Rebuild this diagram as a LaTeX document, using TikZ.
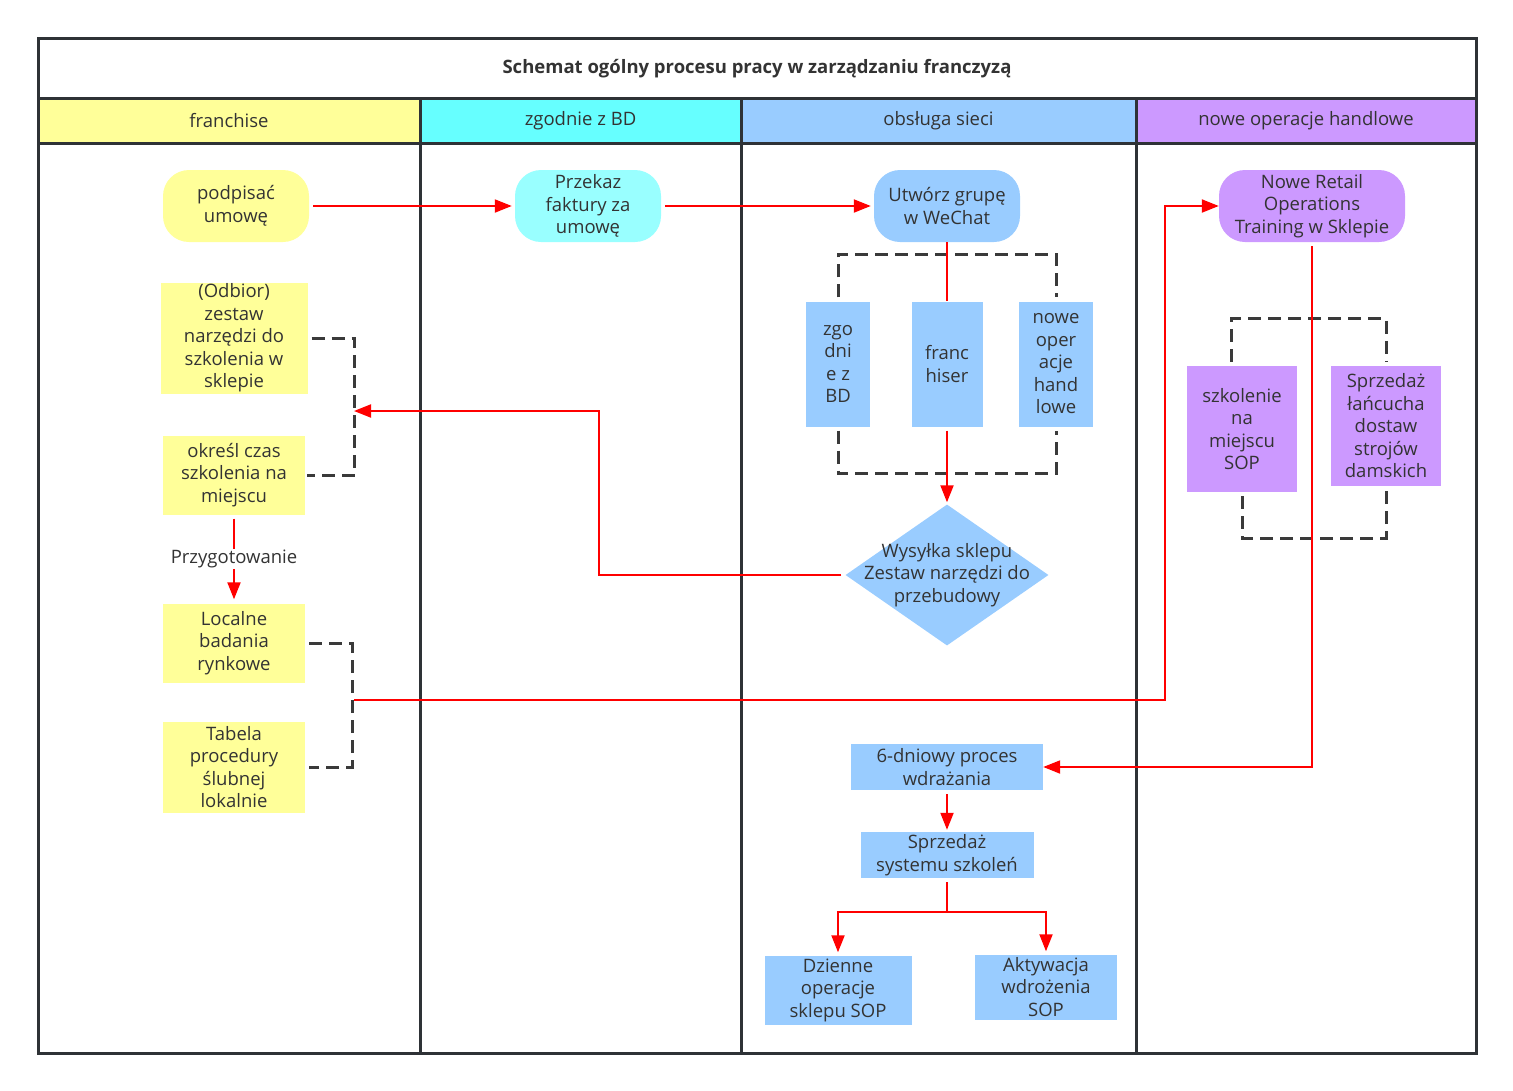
\documentclass[tikz,border=0pt]{standalone}
\usepackage{fontspec}
\setmainfont{Open Sans}
\usetikzlibrary{arrows.meta,positioning,shapes.geometric}
\definecolor{laneyellow}{HTML}{FFFF99}
\definecolor{lanecyan}{HTML}{66FFFF}
\definecolor{boxcyan}{HTML}{99FFFF}
\definecolor{laneblue}{HTML}{99CCFF}
\definecolor{lanepurple}{HTML}{CC99FF}
\definecolor{framegray}{HTML}{2E3236}
\definecolor{dashgray}{HTML}{3A3A3A}
\definecolor{textgray}{HTML}{333333}

\begin{document}
\begin{tikzpicture}[
  x=1pt,y=-1pt,
  font=\fontsize{18.5}{22.5}\selectfont,text=textgray,
  frame/.style={draw=framegray,line width=3pt},
  lanehead/.style={frame,minimum height=45pt,inner sep=0pt},
  box/.style={inner sep=0pt,align=center},
  term/.style={box,rounded corners=26pt,minimum width=146pt,minimum height=72pt},
  flow/.style={-{Triangle[length=17pt,width=13pt]},red,line width=2pt},
  bracket/.style={dashgray,line width=3pt,dash pattern=on 13pt off 7pt}
]
\useasboundingbox (0,0) rectangle (1513,1090);
% lanes and headers
\node[font=\fontsize{18.5}{22.5}\selectfont\bfseries] (title) at (757,69) {Schemat ogólny procesu pracy w zarządzaniu franczyzą};
\node[lanehead,fill=laneyellow,minimum width=382pt] (h1) at (229,120.5) {franchise};
\node[lanehead,fill=lanecyan,minimum width=321pt] (h2) at (580.5,120.5) {zgodnie z BD};
\node[lanehead,fill=laneblue,minimum width=395pt] (h3) at (938.5,120.5) {obsługa sieci};
\node[lanehead,fill=lanepurple,minimum width=340pt] (h4) at (1306,120.5) {nowe operacje handlowe};
\foreach \lx in {420,741,1136}
  \draw[frame] (\lx,98) -- (\lx,1053);
\draw[frame] (38,38) rectangle (1476,1053);

% franchise
\node[term,fill=laneyellow] (sign) at (236,206) {podpisać\\umowę};
\node[box,fill=laneyellow,minimum width=147pt,minimum height=111pt] (odb) at (234,338) {(Odbior)\\zestaw\\narzędzi do\\szkolenia w\\sklepie};
\node[box,fill=laneyellow,minimum width=142pt,minimum height=79pt] (okr) at (234,475) {określ czas\\szkolenia na\\miejscu};
\node[box,fill=laneyellow,minimum width=142pt,minimum height=79pt] (loc) at (234,643) {Localne\\badania\\rynkowe};
\node[box,fill=laneyellow,minimum width=142pt,minimum height=91pt] (tab) at (234,767) {Tabela\\procedury\\ślubnej\\lokalnie};

% zgodnie z BD
\node[term,fill=boxcyan] (inv) at (588,206) {Przekaz\\faktury za\\umowę};

% obsługa sieci
\node[term,fill=laneblue] (wch) at (947,206) {Utwórz grupę\\w WeChat};
\node[box,fill=laneblue,minimum width=64pt,minimum height=125pt] (zgo) at (838,364) {zgo\\dni\\e z\\BD};
\node[box,fill=laneblue,minimum width=71pt,minimum height=125pt] (fra) at (947,364) {franc\\hiser};
\node[box,fill=laneblue,minimum width=74pt,minimum height=125pt] (now) at (1056,364) {nowe\\oper\\acje\\hand\\lowe};
\node[diamond,fill=laneblue,minimum width=203pt,minimum height=141pt,inner sep=0pt] (ship) at (947,575) {};
\node[box] (shiptxt) at (ship) {Wysyłka sklepu\\Zestaw narzędzi do\\przebudowy};
\node[box,fill=laneblue,minimum width=192pt,minimum height=46pt] (six) at (947,767) {6-dniowy proces\\wdrażania};
\node[box,fill=laneblue,minimum width=173pt,minimum height=46pt] (sys) at (947,855) {Sprzedaż\\systemu szkoleń};
\node[box,fill=laneblue,minimum width=147pt,minimum height=69pt] (day) at (838,990) {Dzienne\\operacje\\sklepu SOP};
\node[box,fill=laneblue,minimum width=142pt,minimum height=65pt] (act) at (1046,987) {Aktywacja\\wdrożenia\\SOP};

% nowe operacje handlowe
\node[term,fill=lanepurple,minimum width=186pt] (nrt) at (1312,206) {Nowe Retail\\Operations\\Training w Sklepie};
\node[box,fill=lanepurple,minimum width=110pt,minimum height=126pt] (szk) at (1242,429) {szkolenie\\na\\miejscu\\SOP};
\node[box,fill=lanepurple,minimum width=110pt,minimum height=120pt] (spr) at (1386,426) {Sprzedaż\\łańcucha\\dostaw\\strojów\\damskich};

% dashed brackets
\draw[bracket] ([xshift=4pt]odb.east) -- ++(43,0) |- ([xshift=2pt]okr.east);
\draw[bracket] ([xshift=4pt]loc.east) -- ++(43,0) |- ([xshift=4pt]tab.east);
\draw[bracket] ([yshift=4pt]zgo.north) -- ++(0,-43) -| ([yshift=4pt]now.north);
\draw[bracket] ([yshift=-4pt]zgo.south) -- ++(0,43) -| ([yshift=-4pt]now.south);
\draw[bracket] ([xshift=-11pt,yshift=4pt]szk.north) -- ++(0,-43) -| ([yshift=4pt]spr.north);
\draw[bracket] ([yshift=-4pt]szk.south) -- ++(0,42) -| ([yshift=-4pt]spr.south);
\coordinate (b1) at (354,411);
\coordinate (b2) at (354,700);

% flows
\draw[flow,shorten <=4pt,shorten >=3pt] (sign) -- (inv);
\draw[flow,shorten <=4pt,shorten >=3pt] (inv) -- (wch);
\draw[red,line width=2pt] (wch.south) -- (fra.north);
\draw[flow,shorten <=4pt,shorten >=2pt] (fra) -- (ship);
\draw[flow,shorten <=4pt] (ship.west) -- (599,575) |- (b1);
\draw[flow,shorten <=4pt,shorten >=4pt] (okr) -- node[fill=white,text=textgray,inner sep=1pt] {Przygotowanie} (loc);
\draw[flow] (b2) -- (1165,700) |- (nrt.west);
\draw[flow,shorten <=4pt] (nrt.south) |- (six.east);
\draw[flow,shorten <=4pt,shorten >=2pt] (six) -- (sys);
\draw[flow,shorten <=4pt,shorten >=3pt] (sys.south) -- ++(0,34) -| (day.north);
\draw[flow,shorten >=3pt] (sys.south) ++(0,34) -| (act.north);
\end{tikzpicture}
\end{document}
